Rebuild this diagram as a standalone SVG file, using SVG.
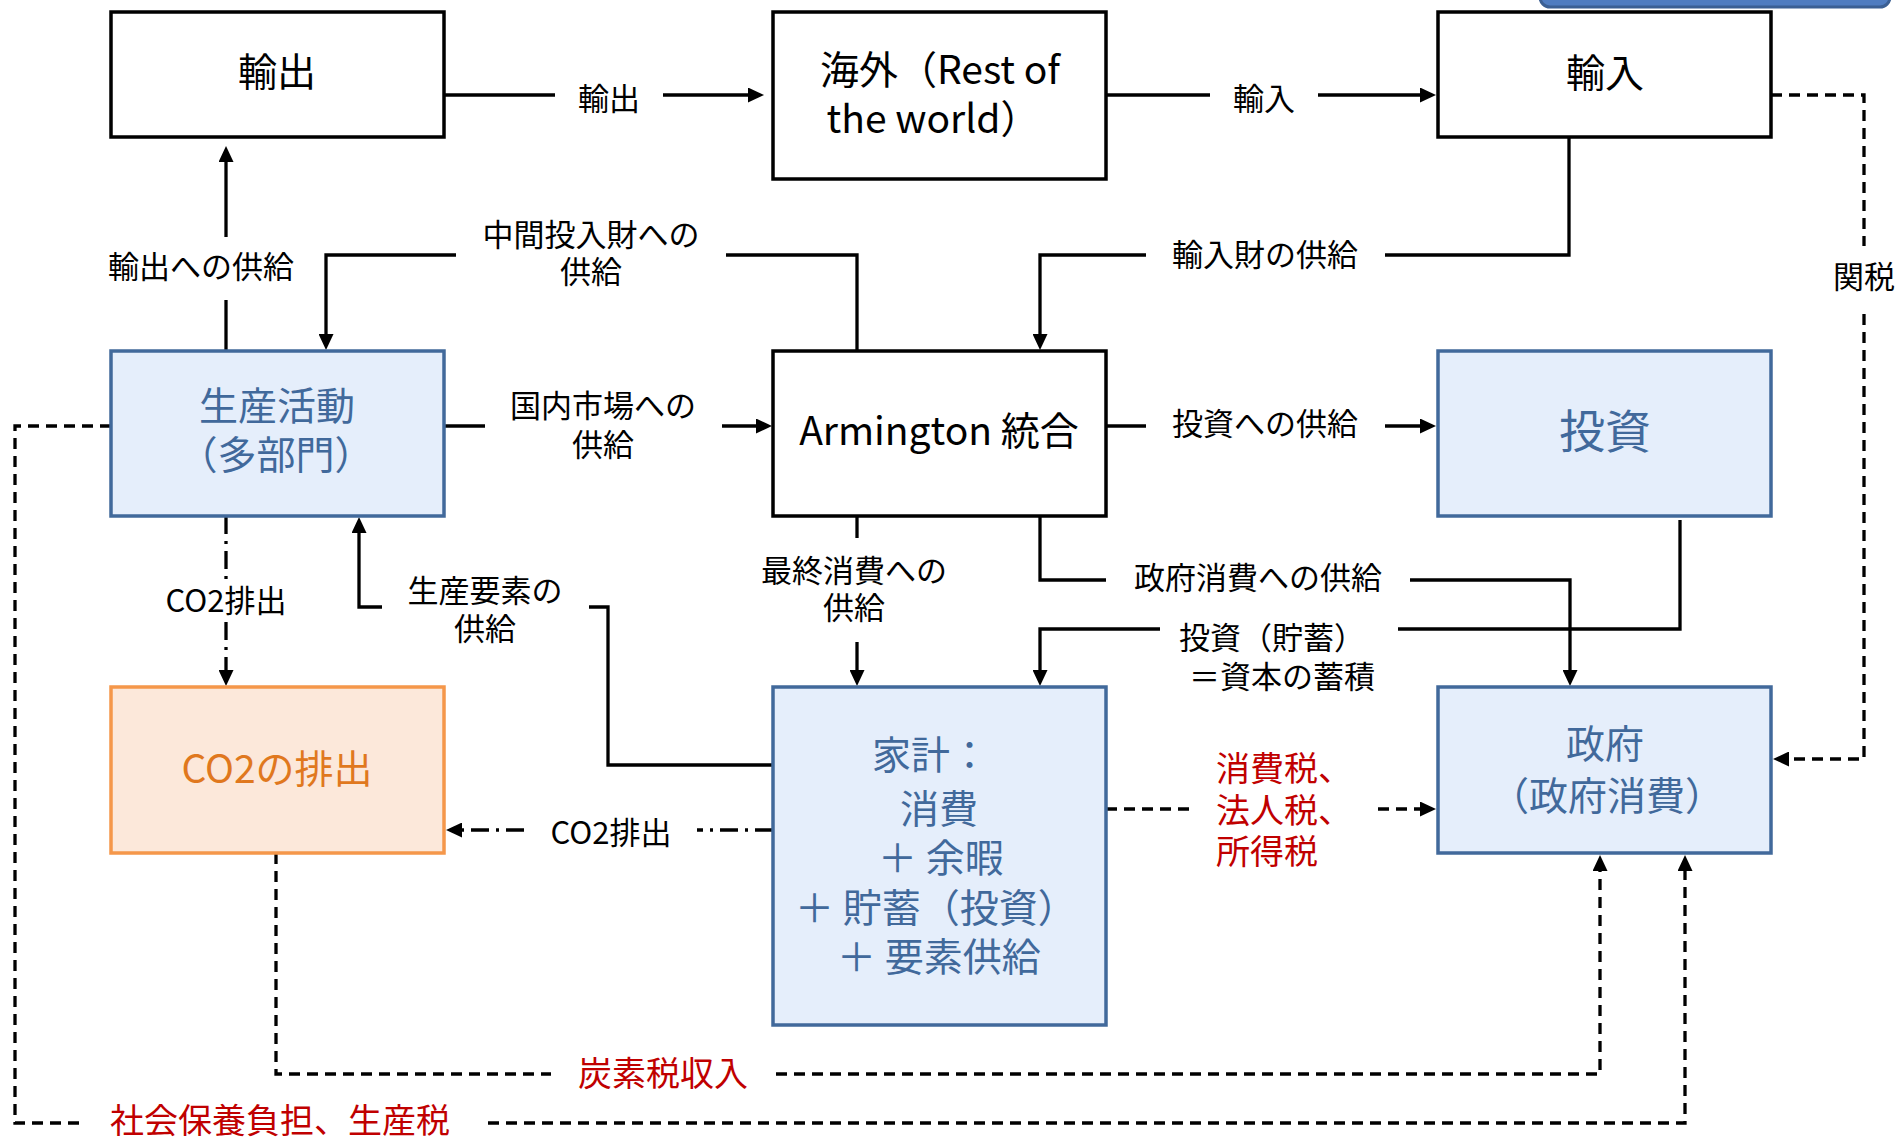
<svg xmlns="http://www.w3.org/2000/svg" width="1897" height="1140" viewBox="0 0 1897 1140">
<style>
text{font-family:"Noto Sans CJK JP","Noto Sans",sans-serif}
.bx{fill:#fff;stroke:#000;stroke-width:3.5}
.bb{fill:#E5EEFB;stroke:#41699B;stroke-width:3.5}
.bo{fill:#FCE8DA;stroke:#F5974A;stroke-width:3.5}
.tk{fill:#000;font-size:39px;text-anchor:middle}
.tb{fill:#41699B;font-size:39px;text-anchor:middle}
.to{fill:#E0781E;font-size:39px;text-anchor:middle}
.lb{fill:#000;font-size:31px;text-anchor:middle}
.lr{fill:#C00000;font-size:34px}
.c{fill:none;stroke:#000;stroke-width:3.3}
.d{stroke-dasharray:11 7}
.dd{stroke-dasharray:18 7 3 7}
.a{marker-end:url(#ah)}
</style>
<defs>
<marker id="ah" viewBox="0 0 16 15" refX="10" refY="7.5" markerWidth="16" markerHeight="15" orient="auto" markerUnits="userSpaceOnUse"><path d="M0,0 L16,7.5 L0,15 z" fill="#000"/></marker>
</defs>
<rect x="1540" y="-30" width="350" height="37" rx="10" fill="#4F7CC0" stroke="#3B5F93" stroke-width="3"/>
<g id="connectors">
<path class="c" d="M444,95 H555"/><path class="c a" d="M663,95 H758"/>
<path class="c" d="M1106,95 H1210"/><path class="c a" d="M1318,95 H1430"/>
<path class="c" d="M1569,137 V255 H1385"/><path class="c a" d="M1146,255 H1040 V344"/>
<path class="c" d="M857,351 V255 H726"/><path class="c a" d="M456,255 H326 V344"/>
<path class="c" d="M226,351 V300"/><path class="c a" d="M226,237 V152"/>
<path class="c" d="M444,426 H485"/><path class="c a" d="M722,426 H766"/>
<path class="c" d="M1106,426 H1146"/><path class="c a" d="M1385,426 H1430"/>
<path class="c dd" d="M226,516 V583"/><path class="c dd a" d="M226,622 V680"/>
<path class="c" d="M773,765 H608 V607 H589"/><path class="c a" d="M382,607 H359 V523"/>
<path class="c" d="M857,516 V538"/><path class="c a" d="M857,642 V680"/>
<path class="c" d="M1040,516 V580 H1106"/><path class="c a" d="M1410,580 H1570 V680"/>
<path class="c" d="M1680,520 V629 H1398"/><path class="c a" d="M1160,629 H1040 V680"/>
<path class="c dd" d="M773,830 H697"/><path class="c dd a" d="M524,830 H452"/>
<path class="c d" d="M1106,809 H1193"/><path class="c d a" d="M1378,809 H1430"/>
<path class="c d" d="M1771,95 H1864 V246"/><path class="c d a" d="M1864,314 V759 H1779"/>
<path class="c d" d="M276,853 V1074 H551"/><path class="c d a" d="M776,1074 H1600 V861"/>
<path class="c d" d="M111,426 H15 V1123 H82"/><path class="c d a" d="M488,1123 H1685 V861"/>
<text class="lb" x="609" y="110">輸出</text>
<text class="lb" x="1264" y="110">輸入</text>
<text class="lb" x="1265" y="266">輸入財の供給</text>
<text class="lb" x="591" y="246">中間投入財への</text>
<text class="lb" x="591" y="283">供給</text>
<text class="lb" x="201" y="278">輸出への供給</text>
<text class="lb" x="603" y="417">国内市場への</text>
<text class="lb" x="603" y="456">供給</text>
<text class="lb" x="1265" y="435">投資への供給</text>
<text class="lb" x="226" y="612">CO2排出</text>
<text class="lb" x="485" y="602">生産要素の</text>
<text class="lb" x="485" y="640">供給</text>
<text class="lb" x="854" y="582">最終消費への</text>
<text class="lb" x="854" y="619">供給</text>
<text class="lb" x="1258" y="589">政府消費への供給</text>
<text class="lb" x="1272" y="649">投資（貯蓄）</text>
<text class="lb" x="1282" y="688">＝資本の蓄積</text>
<text class="lb" x="611" y="844">CO2排出</text>
<text class="lb" x="1864" y="288">関税</text>
<text class="lr" x="1216" y="781">消費税、</text>
<text class="lr" x="1216" y="823">法人税、</text>
<text class="lr" x="1216" y="864">所得税</text>
<text class="lr" x="663" y="1086" text-anchor="middle">炭素税収入</text>
<text class="lr" x="280" y="1133" text-anchor="middle">社会保養負担、生産税</text>
</g>
<g id="n-export"><rect class="bx" x="111" y="12" width="333" height="125"/><text class="tk" x="277" y="86">輸出</text></g>
<g id="n-row"><rect class="bx" x="773" y="12" width="333" height="167"/><text class="tk" x="940" y="84">海外（Rest of</text><text class="tk" x="933" y="133">the world）</text></g>
<g id="n-import"><rect class="bx" x="1438" y="12" width="333" height="125"/><text class="tk" x="1605" y="87">輸入</text></g>
<g id="n-prod"><rect class="bb" x="111" y="351" width="333" height="165"/><text class="tb" x="277" y="420">生産活動</text><text class="tb" x="276" y="469">（多部門）</text></g>
<g id="n-arm"><rect class="bx" x="773" y="351" width="333" height="165"/><text class="tk" x="939" y="445">Armington 統合</text></g>
<g id="n-inv"><rect class="bb" x="1438" y="351" width="333" height="165"/><text class="tb" x="1605" y="448" style="font-size:46px">投資</text></g>
<g id="n-co2"><rect class="bo" x="111" y="687" width="333" height="166"/><text class="to" x="277" y="783">CO2の排出</text></g>
<g id="n-hh"><rect class="bb" x="773" y="687" width="333" height="338"/>
<text class="tb" style="text-anchor:start" x="872" y="769">家計：</text>
<text class="tb" style="text-anchor:start" x="900" y="823">消費</text>
<text class="tb" style="text-anchor:start" x="878" y="872">＋ 余暇</text>
<text class="tb" style="text-anchor:start" x="795" y="922">＋ 貯蓄（投資）</text>
<text class="tb" style="text-anchor:start" x="837" y="971">＋ 要素供給</text></g>
<g id="n-gov"><rect class="bb" x="1438" y="687" width="333" height="166"/><text class="tb" x="1605" y="758">政府</text><text class="tb" x="1607" y="810">（政府消費）</text></g>
</svg>
